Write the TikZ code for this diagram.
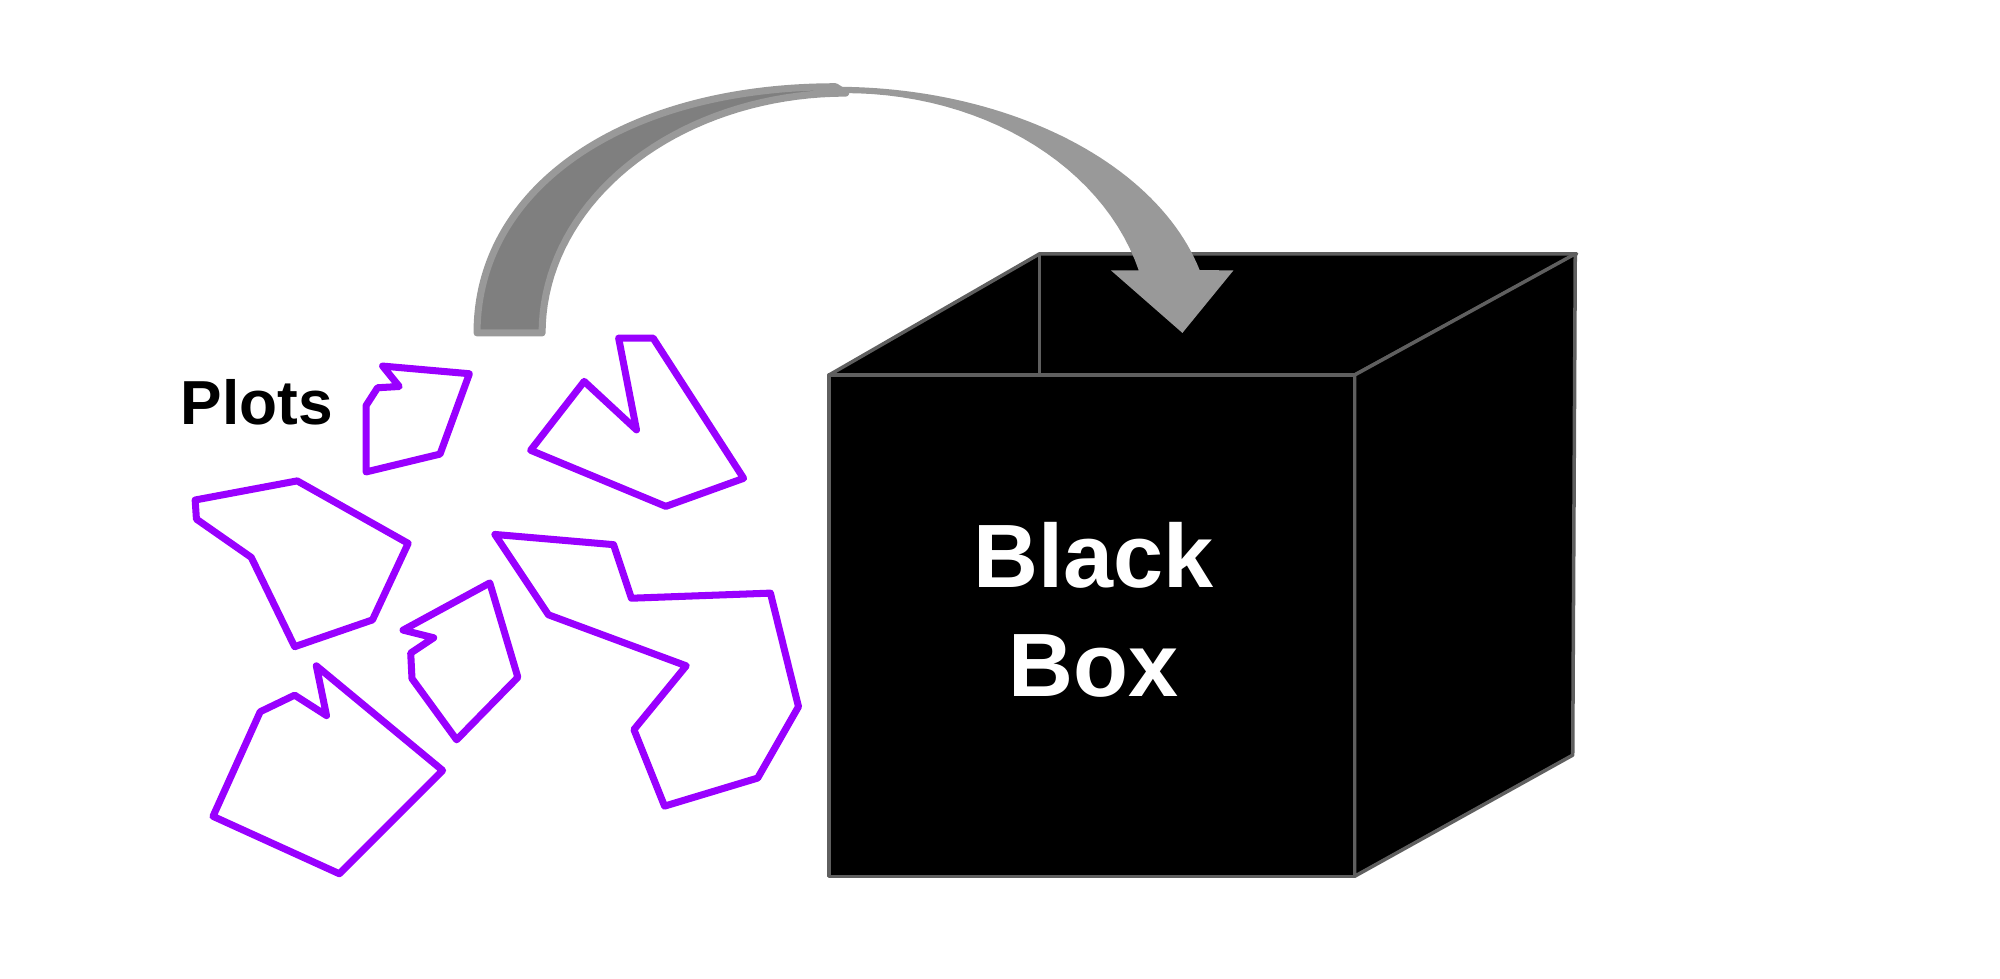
\documentclass[tikz,border=0pt]{standalone}
\usepackage{fontspec}
\setmainfont{Liberation Sans}
\usetikzlibrary{positioning}

\begin{document}
\begin{tikzpicture}[
  x=0.012755cm, y=-0.012755cm,
  % ---- styles ----
  shard/.style={%
    draw=Cv, line width=2pt, line join=round, line cap=round,
  },
  boxedge/.style={%
    draw=Ce, fill=black, line width=1pt, line join=round,
  },
  tag/.style={%
    font=\bfseries\fontsize{17.7}{21}\selectfont, inner sep=0pt,
  },
  boxtext/.style={%
    font=\bfseries\fontsize{25.6}{31.2}\selectfont, text=white,
    align=center, inner sep=0pt,
  },
]

% ---- colour palette ----
\definecolor{Cv}{HTML}{9900FF}   % plots
\definecolor{Ce}{HTML}{5F5F5F}   % box edges
\definecolor{Cl}{HTML}{999999}   % arrow, front
\definecolor{Cd}{HTML}{7F7F7F}   % arrow, back

\def\ocx{655} \def\ocy{260} \def\orx{295} \def\ory{192}   % outer arc
\def\icx{663} \def\icy{261} \def\irx{238} \def\iry{188}   % inner arc

\useasboundingbox (0,0) rectangle (1568,767.5);

% =========================================================
% black box
% =========================================================
\filldraw[boxedge] (650,294) -- (815,199) -- (1236,199) -- (1062,294) -- cycle;
\draw[boxedge, fill=none] (815,199) -- (815,294);
\filldraw[boxedge] (1062,294) -- (1235,199) -- (1233,592) -- (1062,687) -- cycle;
\filldraw[boxedge] (650,294) rectangle (1062,687);

\node[boxtext] (bb) at (857,478) {Black\\Box};

% =========================================================
% curved arrow
% =========================================================
\fill[Cl, line join=round]
  (374,261) .. controls (374,147) and (489,68) .. (655,68)
  -- plot[domain=90:14.57, samples=50] ({\ocx+\orx*cos(\x)},{\ocy-\ory*sin(\x)})
  -- (967,212) -- (927,261) -- (871,212)
  -- plot[domain=15.1:180, samples=60] ({\icx+\irx*cos(\x)},{\icy-\iry*sin(\x)})
  -- cycle;
\filldraw[fill=Cd, draw=Cl, line width=2pt, line join=round]
  (374,261) .. controls (374,147) and (489,68) .. (655,68)
  -- plot[domain=90:180, samples=40] ({\icx+\irx*cos(\x)},{\icy-\iry*sin(\x)})
  -- cycle;

% =========================================================
% plots
% =========================================================
\node[tag, anchor=base west] (plots) at (141,333) {Plots};

\draw[shard] (300,287) -- (368,293) -- (345,356) -- (287,370) -- (287,318)
  -- (296,304) -- (313,303) -- cycle;
\draw[shard] (485,265) -- (512,265) -- (583,375) -- (522,397) -- (416,353)
  -- (458,299) -- (499,337) -- cycle;
\draw[shard] (153,392) -- (233,377) -- (320,426) -- (292,486) -- (231,507)
  -- (197,437) -- (154,407) -- cycle;
\draw[shard] (384,457) -- (406,531) -- (358,580) -- (323,532) -- (322,512)
  -- (340,500) -- (316,494) -- cycle;
\draw[shard] (248,522) -- (347,604) -- (266,685) -- (167,640) -- (204,558)
  -- (231,545) -- (256,561) -- cycle;
\draw[shard] (388,419) -- (481,427) -- (495,469) -- (604,465) -- (626,554)
  -- (594,610) -- (521,632) -- (497,572) -- (538,522) -- (430,482) -- cycle;

\end{tikzpicture}
\end{document}
